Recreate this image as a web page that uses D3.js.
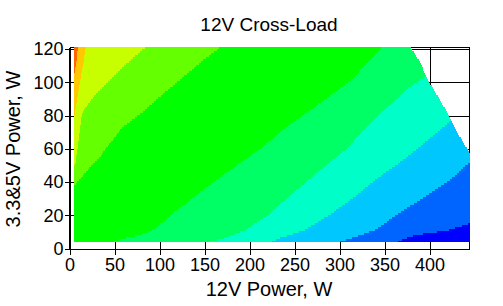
<!DOCTYPE html>
<html><head><meta charset="utf-8">
<script src="https://cdn.jsdelivr.net/npm/d3@7"></script>
<style>
body{margin:0;background:#fff}
svg{display:block}
text{font-family:"Liberation Sans",Arial,sans-serif;fill:#000}
</style>
</head><body>
<svg id="c" width="503" height="306"></svg>
<script>
// ---------- data ----------
const title = "12V Cross-Load";
const xLabel = "12V Power, W";
const yLabel = "3.3&5V Power, W";
const xTicks = [0, 50, 100, 150, 200, 250, 300, 350, 400];
const yTicks = [0, 20, 40, 60, 80, 100, 120];
const xMax = 444.4;          // 12V W at right frame
const yMax = 121;            // 3.3&5V W at top frame
const dataMinX = 5;          // first tested 12V load, W
const dataMinY = 4;          // first tested 3.3&5V load, W
const dataMaxY = 121;

// band colours, from top-left (highest 12V) to bottom-right (lowest)
const bandColors = ["#ff6400", "#ffc800", "#c8ff00", "#64ff00", "#00ff00",
                    "#00ff64", "#00ffc8", "#00c8ff", "#0064ff", "#0000ff"];

// boundaries between successive bands: [3.3&5V W, 12V W]
const b01 = [[104, 4.5], [106, 5.5], [110, 6.8], [114, 8.3], [121, 9.2]];
const b12 = [[77, 4.5], [82, 6], [92, 9.3], [102, 12], [112, 15.5], [121, 18]];
const b23 = [[49, 4.5], [52, 6.7], [63, 9.7], [73, 12], [80.5, 13.7], [84.6, 17.4],
             [90.6, 25.6], [102.6, 47], [112, 65], [121, 84]];
const b34 = [[37.5, 4.5], [43.1, 13.7], [49.2, 23], [55.2, 34], [61.2, 41.5], [64.4, 47],
             [72.5, 58], [82.5, 82], [92.6, 103], [102.6, 125], [112.7, 147], [121, 167]];
const b45 = [[4, 48], [6, 60], [7.5, 73], [9.5, 86], [13, 97], [17, 106], [21, 114],
             [31, 138], [41, 162], [51, 188], [61, 214], [72.5, 239], [82.5, 265],
             [92.6, 291], [102.6, 315], [112.7, 332], [121, 347]];
const b56 = [[4, 155], [6, 170], [11, 195], [21, 222], [31.1, 243], [41.1, 265],
             [51.1, 287], [61.2, 310], [72.5, 328], [82.5, 347], [92.6, 369],
             [96.6, 376], [102.6, 393], [108, 410]];
const b67 = [[4, 225], [5.9, 232], [11, 261], [21, 291], [31.1, 317], [41.1, 339],
             [48.4, 358], [53.4, 371], [59.4, 385], [65.4, 398], [71.5, 412],
             [77.5, 425], [85, 445]];
const b78 = [[4, 300], [5.9, 311.5], [11, 339], [15, 350], [21, 365], [31.1, 395],
             [35.1, 406], [41.1, 422.6], [50.2, 441], [53, 450]];
const b89 = [[4, 365], [5.9, 373], [8, 384], [11, 421], [15, 444], [17, 452]];
// right limit of tested region (combined power limit): [3.3&5V W, 12V W]
const edge = [[4, 445], [57, 445], [62.4, 439], [72.5, 428], [82.5, 419], [92.6, 408],
              [102.6, 397], [112.7, 389], [121, 379]];

// ---------- layout ----------
const svg = d3.select("#c");
const x = d3.scaleLinear().domain([0, xMax]).range([69.5, 469.5]);
const y = d3.scaleLinear().domain([0, yMax]).range([248.5, 47.5]);

// piecewise-linear lookup for a boundary list
const lookup = pts => d3.scaleLinear().domain(pts.map(p => p[0])).range(pts.map(p => p[1])).clamp(true);
const bounds = [b01, b12, b23, b34, b45, b56, b67, b78, b89].map(lookup);
const edgeF = lookup(edge);

// grid + frame (under the map)
const grid = svg.append("g").attr("stroke", "#000").attr("stroke-width", 1).attr("shape-rendering", "crispEdges");
yTicks.forEach(t => grid.append("line").attr("x1", x(0)).attr("x2", x(xMax)).attr("y1", Math.round(y(t)) + 0.5).attr("y2", Math.round(y(t)) + 0.5));
xTicks.forEach(t => grid.append("line").attr("y1", y(yMax)).attr("y2", y(0)).attr("x1", Math.round(x(t)) + 0.5).attr("x2", Math.round(x(t)) + 0.5));
grid.append("line").attr("x1", x(0)).attr("x2", x(xMax)).attr("y1", y(yMax)).attr("y2", y(yMax));
grid.append("line").attr("x1", x(xMax)).attr("x2", x(xMax)).attr("y1", y(yMax)).attr("y2", y(0));

// heat map drawn as 2-px rows of colour runs
const map = svg.append("g").attr("shape-rendering", "crispEdges");
const rowTop = Math.round(y(dataMaxY) - 0.5);
const rowBot = Math.round(y(dataMinY));
for (let r = rowTop; r < rowBot; r += 2) {
  const yv = y.invert(r + 1);
  const lim = Math.min(edgeF(yv), xMax);
  let prev = dataMinX;
  for (let i = 0; i < bandColors.length; i++) {
    let right = i < bounds.length ? bounds[i](yv) : lim;
    right = Math.min(Math.max(right, prev), lim);
    const px0 = Math.round(x(prev)), px1 = Math.round(x(right));
    if (px1 > px0) {
      map.append("rect").attr("x", px0).attr("y", r).attr("width", px1 - px0)
         .attr("height", Math.min(2, rowBot - r)).attr("fill", bandColors[i]);
    }
    prev = right;
  }
}

// axes
const xAxis = svg.append("g").attr("transform", `translate(0,${y(0)})`)
  .call(d3.axisBottom(x).tickValues(xTicks).tickSize(6).tickSizeOuter(0).tickPadding(4));
const yAxis = svg.append("g").attr("transform", `translate(${x(0)},0)`)
  .call(d3.axisLeft(y).tickValues(yTicks).tickSize(5).tickSizeOuter(0).tickPadding(1));
[xAxis, yAxis].forEach(a => {
  a.selectAll("path,line").attr("stroke", "#000").attr("shape-rendering", "crispEdges");
  a.selectAll("text").attr("font-size", 18).attr("font-family", '"Liberation Sans",Arial,sans-serif').attr("fill", "#000");
});
// y axis line spans full frame height
yAxis.select("path.domain").attr("d", `M0.5,${y(yMax)}V${y(0)}`).attr("transform", "translate(-0.5,0)");

// titles
svg.append("text").attr("x", 269).attr("y", 30.5).attr("text-anchor", "middle").attr("font-size", 19).text(title);
svg.append("text").attr("x", 269).attr("y", 296).attr("text-anchor", "middle").attr("font-size", 20).text(xLabel);
svg.append("text").attr("transform", "translate(20,149) rotate(-90)").attr("text-anchor", "middle").attr("font-size", 20).text(yLabel);
</script>
</body></html>
